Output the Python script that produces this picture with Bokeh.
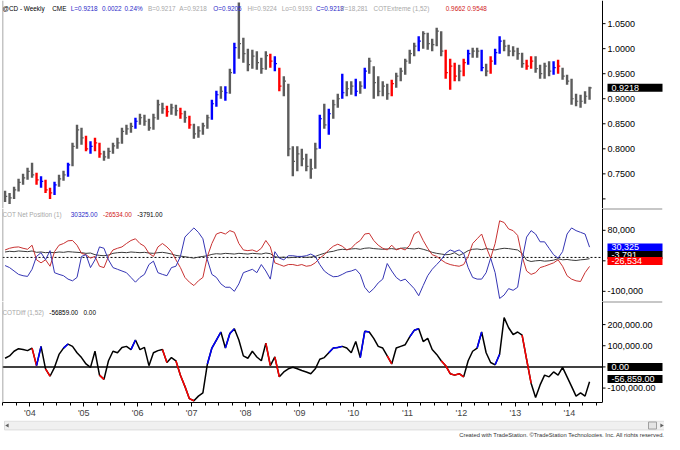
import numpy as np
import pandas as pd
from bokeh.plotting import figure
from bokeh.layouts import column
from bokeh.models import (Range1d, LinearAxis, FixedTicker, NumeralTickFormatter,
                          CustomJSTickFormatter, Span, Label)
from bokeh.embed import file_html
from bokeh.resources import INLINE
from bokeh.core.properties import value

# ---------------- data (monthly readings) ----------------
months = [str(p) for p in pd.period_range("2003-07", "2014-05", freq="M")]

price_close = [0.705, 0.702, 0.718, 0.733, 0.742, 0.755, 0.748, 0.738, 0.735, 0.718,
               0.712, 0.728, 0.740, 0.748, 0.768, 0.805, 0.838, 0.822, 0.800, 0.805,
               0.812, 0.790, 0.784, 0.795, 0.806, 0.812, 0.835, 0.840, 0.845, 0.855,
               0.862, 0.855, 0.842, 0.862, 0.888, 0.880, 0.874, 0.882, 0.876, 0.870,
               0.862, 0.848, 0.830, 0.836, 0.846, 0.862, 0.890, 0.908, 0.915, 0.912,
               0.952, 1.002, 1.010, 0.990, 0.968, 0.985, 0.972, 0.960, 0.986, 0.975,
               0.970, 0.925, 0.935, 0.800, 0.775, 0.790, 0.780, 0.765, 0.760, 0.800,
               0.860, 0.848, 0.870, 0.888, 0.900, 0.912, 0.920, 0.925, 0.915, 0.925,
               0.955, 0.975, 0.932, 0.915, 0.925, 0.910, 0.930, 0.945, 0.955, 0.975,
               0.990, 1.005, 1.015, 1.030, 1.010, 1.008, 1.035, 0.995, 0.952, 0.965,
               0.945, 0.955, 0.972, 0.990, 0.995, 0.995, 0.962, 0.955, 0.975, 0.992,
               1.015, 1.005, 0.995, 0.995, 0.990, 0.970, 0.965, 0.975, 0.960, 0.950,
               0.965, 0.955, 0.962, 0.965, 0.945, 0.935, 0.900, 0.895, 0.895, 0.905,
               0.9218]
price_high = [0.716, 0.712, 0.724, 0.740, 0.750, 0.762, 0.772, 0.752, 0.745, 0.738,
              0.722, 0.734, 0.748, 0.756, 0.772, 0.812, 0.848, 0.842, 0.826, 0.815,
              0.822, 0.812, 0.796, 0.802, 0.812, 0.822, 0.842, 0.848, 0.852, 0.862,
              0.870, 0.868, 0.860, 0.870, 0.898, 0.892, 0.886, 0.890, 0.888, 0.882,
              0.876, 0.866, 0.850, 0.845, 0.852, 0.868, 0.898, 0.916, 0.925, 0.925,
              0.960, 1.012, 1.092, 1.022, 1.000, 0.998, 0.995, 0.982, 0.995, 0.990,
              0.985, 0.962, 0.945, 0.930, 0.805, 0.805, 0.800, 0.790, 0.780, 0.812,
              0.868, 0.890, 0.880, 0.898, 0.910, 0.950, 0.935, 0.935, 0.940, 0.935,
              0.962, 0.982, 0.965, 0.945, 0.935, 0.930, 0.938, 0.952, 0.962, 0.980,
              0.998, 1.012, 1.025, 1.035, 1.032, 1.020, 1.042, 1.035, 0.998, 0.980,
              0.972, 0.968, 0.980, 0.998, 1.002, 1.002, 0.998, 0.970, 0.985, 1.000,
              1.025, 1.018, 1.008, 1.005, 1.002, 0.992, 0.978, 0.985, 0.985, 0.968,
              0.972, 0.975, 0.975, 0.978, 0.962, 0.948, 0.940, 0.910, 0.908, 0.915,
              0.9240]
price_low = [0.694, 0.690, 0.700, 0.715, 0.728, 0.738, 0.742, 0.728, 0.722, 0.712,
             0.700, 0.708, 0.724, 0.736, 0.744, 0.765, 0.800, 0.808, 0.795, 0.790,
             0.795, 0.782, 0.776, 0.780, 0.790, 0.800, 0.810, 0.828, 0.832, 0.840,
             0.848, 0.846, 0.836, 0.838, 0.858, 0.870, 0.864, 0.868, 0.866, 0.860,
             0.852, 0.840, 0.820, 0.822, 0.828, 0.840, 0.858, 0.884, 0.900, 0.896,
             0.910, 0.950, 0.980, 0.972, 0.955, 0.960, 0.958, 0.950, 0.958, 0.962,
             0.955, 0.915, 0.905, 0.785, 0.745, 0.755, 0.765, 0.755, 0.740, 0.760,
             0.800, 0.840, 0.828, 0.860, 0.882, 0.900, 0.905, 0.908, 0.905, 0.910,
             0.920, 0.950, 0.900, 0.905, 0.905, 0.898, 0.905, 0.922, 0.935, 0.948,
             0.970, 0.985, 0.995, 1.000, 0.998, 0.995, 1.005, 0.985, 0.940, 0.918,
             0.935, 0.935, 0.945, 0.968, 0.982, 0.982, 0.955, 0.945, 0.950, 0.968,
             0.990, 0.995, 0.985, 0.985, 0.978, 0.962, 0.958, 0.960, 0.952, 0.940,
             0.940, 0.945, 0.948, 0.950, 0.938, 0.928, 0.888, 0.885, 0.882, 0.890,
             0.898]
extreme_high_months = ["2004-03", "2004-06", "2004-09", "2005-02", "2005-12", "2007-05",
                       "2007-06", "2007-08", "2007-10", "2008-07", "2009-05", "2009-07",
                       "2009-10", "2010-01", "2010-03", "2011-03", "2012-02", "2012-05",
                       "2012-08", "2012-09", "2013-09"]
extreme_low_months = ["2004-02", "2004-04", "2004-05", "2005-01", "2005-03", "2005-04",
                      "2006-07", "2006-10", "2006-12", "2008-06", "2008-08", "2010-09",
                      "2011-09", "2011-10", "2011-11", "2012-01", "2012-07", "2013-03",
                      "2013-04", "2013-10"]

# COT Net Position, thousands of contracts
net_blue_k = [-24, -30, -40, -50, -54, -56, -35, 3, 14, -7,
              20, -45, -50, -54, -64, -69, -59, 3, 8, -30,
              -7, 31, 27, -7, -30, -35, -40, -45, -59, -73,
              -59, -50, -21, -11, -45, -50, -54, -30, -26, 3,
              60, 74, 87, 74, 55, -7, -50, -59, -78, -88,
              -88, -100, -78, -45, -40, -35, -45, -21, -40, -64,
              17, -2, -7, 5, 5, 3, 3, 5, 10, 3,
              -21, -40, -50, -57, -56, -50, -43, -40, -35, -50,
              -88, -104, -92, -75, -64, -18, -40, -59, -69, -64,
              -78, -92, -113, -83, -54, -35, -21, -7, 12, 22,
              17, 22, 12, -30, -59, -64, -64, -45, -2, -45,
              -121, -111, -92, -97, -88, -7, 60, 79, 69, 46,
              46, 27, 8, -2, 17, 69, 87, 79, 74, 69,
              30.325]
net_red_k = [22, 27, 30, 31, 27, 24, 36, -7, -16, -7,
             -26, 17, 36, 41, 49, 50, 36, 12, 8, -2,
             3, -26, -30, 3, 22, 27, 31, 41, 50, 55,
             41, 33, 12, 3, 31, 41, 31, 17, -7, -30,
             -59, -73, -83, -69, -59, 3, 41, 69, 74, 69,
             79, 74, 41, 22, 20, 22, 17, 27, 50, 31,
             -16, -21, -26, -21, -21, -24, -21, -26, -24, -16,
             -2, 8, 22, 33, 39, 33, 22, 27, 41, 50,
             69, 71, 50, 36, 27, 22, 36, 22, 27, 22,
             36, 69, 77, 50, 27, 8, 3, -7, -16, -21,
             -24, -26, -21, 3, 41, 55, 69, 31, -2, 41,
             108, 103, 84, 79, 65, 3, -40, -50, -45, -30,
             -26, -21, -16, -7, -26, -54, -64, -69, -71, -45,
             -26.534]
net_black_k = [16, 18, 17, 19, 18, 17, 19, 15, 16, 14,
               15, 14, 16, 15, 17, 16, 15, 14, 12, 13,
               8, 6, 5, 7, 12, 14, 15, 14, 16, 15,
               14, 15, 13, 12, 14, 15, 13, 10, 6, 4,
               2, 0, -2, 1, 3, 5, 9, 11, 10, 12,
               11, 10, 12, 11, 10, 12, 11, 10, 13, 11,
               2, 0, 1, -1, 0, 1, 2, 0, 1, 3,
               8, 12, 16, 18, 22, 24, 23, 25, 26, 24,
               27, 28, 26, 25, 24, 25, 26, 24, 27, 28,
               26, 25, 27, 24, 20, 15, 12, 10, 8, 9,
               14, 6, 12, 20, 24, 25, 23, 26, 24, 22,
               25, 27, 26, 24, 22, 12, -8, -12, -10, -9,
               -11, -10, -8, -4, -7, -6, -8, -9, -7, -6,
               -3.791]

# COTDiff (1,52), thousands
cotdiff_k = [41, 52, 74, 86, 82, 77, 89, 6, 97, -9,
             -44, -2, 59, 89, 108, 97, 67, 44, 14, -2,
             74, -39, -59, 29, 74, 67, 92, 97, 82, 127,
             82, 92, 6, 67, 77, 82, 21, 44, 29, -39,
             -92, -150, -160, -138, -123, 14, 89, 127, 165, 89,
             158, 180, 127, 52, 41, 74, 47, 29, 112, 6,
             47, -47, -24, -9, -2, -9, -17, -24, -32, -9,
             36, 44, 67, 89, 92, 97, 89, 67, 120, 44,
             168, 165, 135, 97, 89, 52, 14, 89, 97, 105,
             142, 173, 180, 120, 135, 82, 59, 29, 6, -32,
             -39, -32, -47, 29, 74, 89, 165, 67, 21, 10,
             60, 233, 185, 153, 165, 150, 36, -77, -145, -85,
             -39, -47, -24, -39, -2, -47, -92, -138, -123, -138,
             -70, -56.859]
diff_high_months = ["2004-03", "2004-09", "2005-12", "2007-05", "2007-06", "2007-07",
                    "2007-09", "2007-10", "2009-08", "2009-09", "2009-10", "2010-03",
                    "2010-04", "2011-02", "2011-03", "2012-05", "2012-09"]
diff_low_months = ["2004-02", "2004-05", "2005-05", "2006-07", "2006-10", "2006-11",
                   "2006-12", "2007-01", "2008-06", "2008-08", "2010-09", "2011-09",
                   "2011-10", "2011-11", "2011-12", "2012-01", "2013-03", "2013-04"]

year_ticks = list(range(2004, 2015))
price_ticks = [0.75, 0.80, 0.85, 0.90, 0.95, 1.00, 1.05]
price_minor = [0.70]
net_ticks = [80000, -10000, -100000]
diff_ticks = [200000, 100000, 0, -100000]

# ---------------- layout / style ----------------
FONT = "Liberation Sans"
SX, SY = 664 / 680, 434 / 450
FW = 660                 # frame covers plot area + price-scale strip
X0 = 2003.494            # date at the left frame edge
PXU = 11.121 / 600       # years per pixel
X_AX = X0 + 600 * PXU    # position of the price-scale line
X1 = X0 + FW * PXU
BLUE, RED, GRAY = "#0000FF", "#FF0000", "#5c5c5c"

t = np.array([int(m[:4]) + (int(m[5:]) - 0.5) / 12 for m in months])
xr = Range1d(X0, X1)


def base(frame_h, yr, bottom=0):
    p = figure(frame_width=FW, frame_height=frame_h, x_range=xr, y_range=yr,
               output_backend="svg", toolbar_location=None,
               x_axis_location=None, y_axis_location=None,
               min_border_left=2, min_border_right=2, min_border_top=0,
               min_border_bottom=bottom)
    p.xgrid.visible = False
    p.ygrid.visible = False
    p.outline_line_color = None
    p.add_layout(Span(location=X0, dimension="height",
                      line_color="#8a8a8a", line_width=1.5))
    return p


def right_axis(p, ticks, fmt, minor=()):
    ax = LinearAxis(ticker=FixedTicker(ticks=ticks),
                    formatter=NumeralTickFormatter(format=fmt))
    ax.axis_line_color = None
    ax.major_tick_in = 0
    ax.major_tick_out = 0
    ax.minor_tick_in = 0
    ax.minor_tick_out = 0
    ax.major_label_text_font = FONT
    ax.major_label_text_font_size = "9px"
    ax.major_label_text_color = "black"
    ax.major_label_standoff = -55
    p.add_layout(ax, "right")
    # scale line and tick marks of the price strip
    p.add_layout(Span(location=X_AX, dimension="height", line_color="black", line_width=1))
    allt = list(ticks) + list(minor)
    p.segment(x0=[X_AX] * len(allt), y0=allt, x1=[X_AX + 3 * PXU] * len(allt), y1=allt,
              line_color="black", line_width=1)


def box(p, text, bg, y, y_units="data"):
    p.add_layout(Label(x=X_AX, y=y, x_units="data", y_units=y_units, x_offset=5,
                       text=text, text_color="white", text_font=FONT,
                       text_font_size="9px", text_baseline="middle", text_align="left",
                       background_fill_color=bg, border_line_color=None,
                       padding=dict(left=4, right=60, top=1, bottom=1)))


def titles(p, frame_h, frame_top, ref_y, items):
    ys = frame_h - (ref_y * SY - frame_top)
    for txt, col, rx in items:
        p.add_layout(Label(x=rx * SX - 2, y=ys, x_units="screen", y_units="screen",
                           text=txt, text_color=col, text_font=FONT,
                           text_font_size="6.4px", text_baseline="middle",
                           text_align="left"))


def separator(p, y):
    p.segment(x0=[X_AX], y0=[y], x1=[X1], y1=[y], line_color="#909090", line_width=2)


# ---- panel 1: price bars ----
p1 = base(208, Range1d(0.6808, 1.0962))
bar_col = [BLUE if m in extreme_high_months else RED if m in extreme_low_months else GRAY
           for m in months]
p1.segment(x0=t, y0=price_low, x1=t, y1=price_high, line_color=bar_col, line_width=2.4)
p1.segment(x0=t, y0=price_close, x1=t + 0.04, y1=price_close, line_color=bar_col,
           line_width=1.2)
right_axis(p1, price_ticks, "0.0000", price_minor)
titles(p1, 208, 0, 8, [
    ("@CD - Weekly", "#000000", 2), ("CME", "#000000", 53),
    ("L=0.9218", "#2a2ac8", 72), ("0.0022", "#2a2ac8", 104), ("0.24%", "#2a2ac8", 127),
    ("B=0.9217", "#a8a8a8", 151), ("A=0.9218", "#a8a8a8", 183),
    ("O=0.9205", "#2a2ac8", 218), ("Hi=0.9224", "#a8a8a8", 253),
    ("Lo=0.9193", "#a8a8a8", 288), ("C=0.9218", "#2a2ac8", 323),
    ("V=18,281", "#a8a8a8", 348), ("COTExtreme (1,52)", "#a8a8a8", 382),
    ("0.9662", "#d02020", 456), ("0.9548", "#d02020", 478)])
box(p1, "0.9218", "black", price_close[-1])

# ---- panel 2: COT net position ----
p2 = base(93, Range1d(-130000, 144300))
p2.segment(x0=[X0], y0=[0], x1=[X_AX], y1=[0], line_color="black", line_dash="2 2",
           line_width=1)
k = 1000
p2.line(t, np.array(net_black_k) * k, line_color="#3a3a3a", line_width=1)
p2.line(t, np.array(net_red_k) * k, line_color="#c83232", line_width=1)
p2.line(t, np.array(net_blue_k) * k, line_color="#3535b4", line_width=1)
right_axis(p2, net_ticks, "0,0")
separator(p2, 144300)
titles(p2, 93, 208, 222, [
    ("COT Net Position (1)", "#a8a8a8", 2), ("30325.00", "#2a2ac8", 72),
    ("-26534.00", "#d02020", 105), ("-3791.00", "#000000", 140)])
for txt, bg, ry in [("30,325", "#0000FF", 256), ("-3,791", "black", 264),
                    ("-26,534", "#FF0000", 270)]:
    box(p2, txt, bg, 93 - (ry * SY - 208), y_units="screen")

# ---- panel 3: COTDiff ----
p3 = base(101, Range1d(-168200, 309100), bottom=15)
p3.segment(x0=[X0], y0=[0], x1=[X_AX], y1=[0], line_color="black", line_width=1.5)
dv = np.array(cotdiff_k) * k
p3.line(t, dv, line_color="black", line_width=1.5)
seg_col = [BLUE if m in diff_high_months else RED if m in diff_low_months else None
           for m in months[1:]]
idx = [i for i, c in enumerate(seg_col) if c is not None]
p3.segment(x0=t[:-1][idx], y0=dv[:-1][idx], x1=t[1:][idx], y1=dv[1:][idx],
           line_color=[seg_col[i] for i in idx], line_width=1.5)
right_axis(p3, diff_ticks, "0,0.00")
separator(p3, 309100)
titles(p3, 101, 301, 323, [
    ("COTDiff (1,52)", "#a8a8a8", 2), ("-56859.00", "#000000", 50), ("0.00", "#000000", 85)])
box(p3, "0.00", "black", 0)
box(p3, "-56,859.00", "black", dv[-1])

quarters = [y + q / 4 for y in range(2003, 2015) for q in (1, 2, 3)]
quarters = [q for q in quarters if X0 < q < X_AX]
xa = LinearAxis(ticker=FixedTicker(ticks=year_ticks, minor_ticks=quarters),
                formatter=CustomJSTickFormatter(
                    code="return \"'\" + String(Math.round(tick) % 100).padStart(2, '0');"))
xa.bounds = (X0, X_AX)
xa.axis_line_color = "black"
xa.major_tick_in = 0
xa.major_tick_out = 4
xa.minor_tick_in = 0
xa.minor_tick_out = 3
xa.major_label_text_font = FONT
xa.major_label_text_font_size = "9px"
xa.major_label_standoff = 1
p3.add_layout(xa, "below")

# ---- bottom strip: scroll bar + credit ----
p4 = figure(frame_width=664, frame_height=17, x_range=Range1d(0, 664),
            y_range=Range1d(0, 17), output_backend="svg", toolbar_location=None,
            x_axis_location=None, y_axis_location=None, min_border=0)
p4.xgrid.visible = False
p4.ygrid.visible = False
p4.outline_line_color = None
p4.quad(left=[2], right=[664], bottom=[7.6], top=[16.4], fill_color="#f0f0f0",
        line_color="#dcdcdc")
p4.quad(left=[646], right=[654], bottom=[8.5], top=[15.5], fill_color="#e4e4e4",
        line_color="#a0a0a0")
p4.scatter(x=[5, 659], y=[12, 12], marker="triangle", size=4, angle=[np.pi / 2, -np.pi / 2],
           fill_color="#606060", line_color=None)
p4.text(x=[662], y=[3], text=["Created with TradeStation. ©TradeStation Technologies, Inc. All rights reserved."],
        text_align="right", text_baseline="middle", text_font=value(FONT),
        text_font_size="5.8px", text_color="#333333")

layout = column(p1, p2, p3, p4, spacing=0)
open("out.html", "w").write(file_html(layout, INLINE))
